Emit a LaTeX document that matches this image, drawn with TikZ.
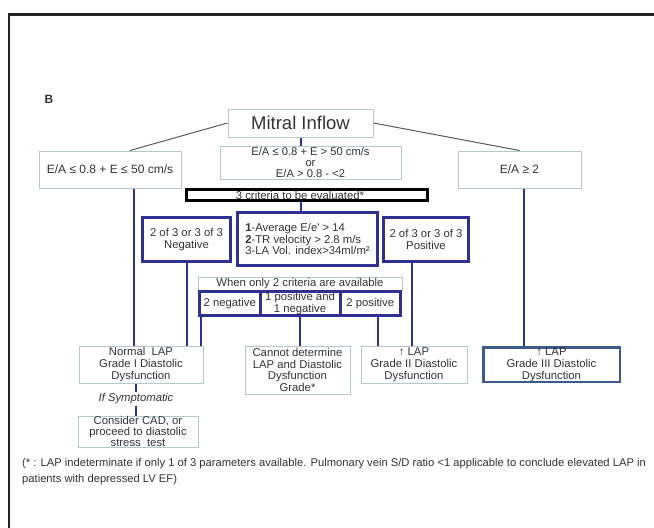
\documentclass[tikz,border=0pt]{standalone}
\usepackage{fontspec}
\setmainfont{Liberation Sans}
\usetikzlibrary{calc}
\definecolor{navyline}{RGB}{46,49,146}
\definecolor{paleedge}{RGB}{180,200,204}
\definecolor{steeledge}{RGB}{60,90,140}
\definecolor{inktext}{RGB}{50,50,55}
\definecolor{frameink}{RGB}{35,35,35}
\begin{document}
\begin{tikzpicture}[x=1pt,y=-1pt,
  every node/.style={text=inktext,font=\fontsize{11.3}{11.8}\selectfont,align=center,inner sep=0pt},
  palebox/.style={draw=paleedge,line width=1pt},
  navybox/.style={draw=navyline,line width=3pt},
  link/.style={draw=navyline,line width=2pt},
  greylink/.style={draw=black!65,line width=1pt}]
\useasboundingbox (0,0) rectangle (654,528);
\draw[frameink,line width=2.5pt] (655,14.5)--(9,14.5)--(9,529);
\node [name=B,font=\fontsize{12}{14}\selectfont\bfseries] at (49,99){B};
\node [palebox,name=mitral,minimum width=145pt,minimum height=28pt,font=\fontsize{18.5}{20}\selectfont] at (300.5,123){Mitral Inflow};
\node [palebox,name=mid,minimum width=181pt,minimum height=33pt,font=\fontsize{11.2}{10.6}\selectfont] at (310.5,162.5){E/A ≤ 0.8 + E > 50 cm/s\\or\\E/A > 0.8 - <2};
\node [palebox,name=left,minimum width=142pt,minimum height=37pt,font=\fontsize{12}{12}\selectfont] at (110,169.5){E/A ≤ 0.8 + E ≤ 50 cm/s};
\node [palebox,name=right,minimum width=123pt,minimum height=37pt,font=\fontsize{12}{12}\selectfont] at (519.5,169.5){E/A ≥ 2};
\node [draw=black,line width=3pt,name=crit,minimum width=241pt,minimum height=11pt] at (307,195){3 criteria to be evaluated*\hspace*{14pt}};
\node [navybox,name=neg,minimum width=88pt,minimum height=44pt] at (186.5,239.5){2 of 3 or 3 of 3\\Negative};
\node [navybox,name=crit3,minimum width=140pt,minimum height=53pt,align=left] at (307.5,239){\textbf{1}-Average E/e\textquotesingle{} > 14\\\textbf{2}-TR velocity > 2.8 m/s\\3-LA Vol. index>34ml/m²};
\node [navybox,name=pos,minimum width=85pt,minimum height=44pt] at (426,239.5){2 of 3 or 3 of 3\\Positive};
\node [palebox,name=when,minimum width=204pt,minimum height=13pt] at (300,283.5){When only 2 criteria are available};
\node [navybox,name=twoneg,minimum width=60.5pt,minimum height=24pt] at (229.75,303.5){2 negative};
\node [navybox,name=onepos,minimum width=80pt,minimum height=24pt] at (300,303.5){1 positive and\\1 negative};
\node [navybox,name=twopos,minimum width=60.5pt,minimum height=24pt] at (370.25,303.5){2 positive};
\node [palebox,name=normal,minimum width=124pt,minimum height=37pt] at (141,364.5){Normal\ \ LAP\\Grade I Diastolic\\Dysfunction};
\node [palebox,name=cannot,minimum width=105pt,minimum height=48pt] at (297.5,370){Cannot determine\\LAP and Diastolic\\Dysfunction\\Grade*};
\node [palebox,name=gradeii,minimum width=106pt,minimum height=37pt] at (414,364.5){↑ LAP\\Grade II Diastolic\\Dysfunction};
\node [draw=steeledge,line width=2.5pt,name=gradeiii,minimum width=136.5pt,minimum height=34.5pt] at (551.5,364.5){↑ LAP\\Grade III Diastolic\\Dysfunction};
\node [name=symp,inner sep=1.5pt,font=\fontsize{11.3}{11.8}\selectfont\itshape] at (136,399){If Symptomatic};
\node [palebox,name=consider,minimum width=120pt,minimum height=31pt,font=\fontsize{11.3}{10.8}\selectfont] at (138,431.5){Consider CAD, or\\proceed to diastolic\\stress\ \ test};
\node [name=note,anchor=north west,align=left,font=\fontsize{11.2}{16}\selectfont] at (22,458){(* : LAP indeterminate if only 1 of 3 parameters available. Pulmonary vein S/D ratio <1 applicable to conclude elevated LAP in\\patients with depressed LV EF)};
% drop points
\coordinate (leftdrop) at ($(left.south)+(24,0)$);
\coordinate (twonegdrop) at ($(twoneg.south west)+(3,0)$);
\coordinate (twoposdrop) at ($(twopos.south)+(7.5,0)$);
\coordinate (posdrop) at ($(pos.south)+(-14,0)$);
\coordinate (rightdrop) at ($(right.south)+(4.5,0)$);
\draw[greylink] (mitral.west)--($(left.north)+(20,0)$);
\draw[greylink] (mitral.east)--(right.north);
\draw[link] (mitral.south)--(mitral.south |- mid.north);
\draw[link] (crit.south -| mitral.south)--(crit3.north -| mitral.south);
\draw[link] (leftdrop)--(leftdrop |- normal.north);
\draw[link] (neg.south)--(neg.south |- normal.north);
\draw[link] (twonegdrop)--(twonegdrop |- normal.north);
\draw[link] (onepos.south)--(onepos.south |- cannot.north);
\draw[link] (twoposdrop)--(twoposdrop |- gradeii.north);
\draw[link] (posdrop)--(posdrop |- gradeii.north);
\draw[link] (rightdrop)--(rightdrop |- gradeiii.north);
\draw[link] (symp.north |- normal.south)--(symp.north);
\draw[link] (symp.south)--(symp.south |- consider.north);
\end{tikzpicture}
\end{document}
